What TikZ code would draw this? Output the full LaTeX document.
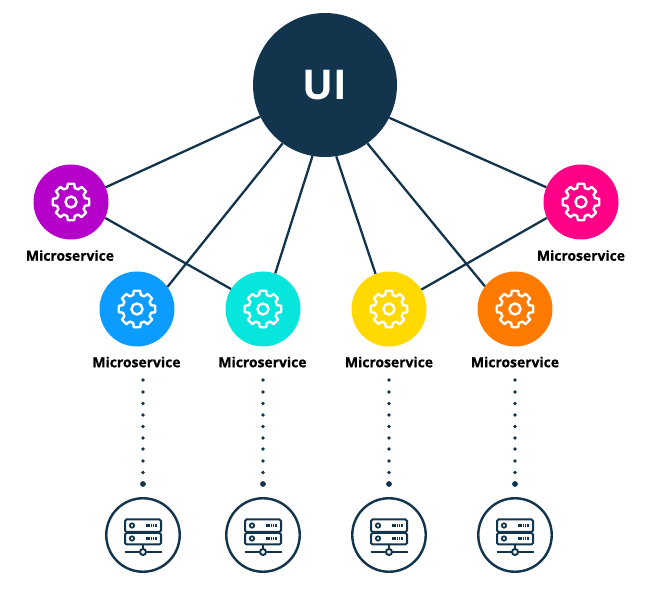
\documentclass[tikz,border=0pt]{standalone}
\usepackage{fontspec}
\setmainfont{Open Sans}
\newfontfamily\lblfont[FakeBold=0.6]{Open Sans Bold}
\definecolor{navy}{HTML}{12344D}
\definecolor{cpurple}{HTML}{B400C8}
\definecolor{cblue}{HTML}{0C9BFF}
\definecolor{ccyan}{HTML}{06E6DC}
\definecolor{cyellow}{HTML}{FFD900}
\definecolor{corange}{HTML}{FF7A00}
\definecolor{cpink}{HTML}{FF0086}
\tikzset{
  svc/.style={circle,minimum size=75pt,inner sep=0pt,fill=#1},
  lbl/.style={font=\fontsize{13.9}{16}\lblfont,text=black,inner sep=0pt},
  link/.style={draw=navy,line width=2.3pt},
  srv/.style={circle,minimum size=73.5pt,inner sep=0pt,draw=navy,line width=2.4pt,fill=white},
  dotm/.style={circle,fill=navy,inner sep=0pt,minimum size=#1},
  gear/.pic={
    \draw[white,line width=2.4pt,line join=round]
      (-15:14.5)
      \foreach \a in {0,45,...,315}{
        -- (\a-15:14.5) -- (\a-10:18.5) -- (\a+10:18.5) -- (\a+15:14.5) -- (\a+30:14.5)
      } -- cycle;
    \draw[white,line width=2.4pt] (0,0) circle (5.5);
  },
  server/.pic={
    \draw[navy,line width=2pt,rounded corners=1.5pt] (-18,-15.5) rectangle (18,-3);
    \draw[navy,line width=2pt,rounded corners=1.5pt] (-18,-2) rectangle (18,9.5);
    \draw[navy,line width=2pt] (0,9.5) -- (0,14);
    \draw[navy,line width=2pt] (-18.5,17) -- (18.5,17);
    \draw[navy,line width=2pt,fill=white] (0,17) circle (3);
    \draw[navy,line width=1.7pt] (-11,-9.5) circle (2.2);
    \draw[navy,line width=1.7pt] (-11,3.5) circle (2.2);
    \draw[navy,line width=2.2pt,dash pattern=on 1.3pt off 0.5pt] (2.5,-9.5) -- (13.5,-9.5);
    \draw[navy,line width=2.2pt,dash pattern=on 1.3pt off 0.5pt] (2.5,3.5) -- (13.5,3.5);
  }
}
\begin{document}
\begin{tikzpicture}[x=1pt,y=-1pt]
\useasboundingbox (0,0) rectangle (654,601);
% nodes
\node[circle,minimum size=144pt,inner sep=0pt,fill=navy,text=white,font=\fontsize{41}{45}\selectfont\bfseries] (ui) at (325,85) {UI};
\node[svc=cpurple] (purple) at (71,202) {};
\node[svc=cblue] (blue) at (137,309) {};
\node[svc=ccyan] (cyan) at (263,309) {};
\node[svc=cyellow] (yellow) at (389,309) {};
\node[svc=corange] (orange) at (515,309) {};
\node[svc=cpink] (pink) at (581,202) {};
% connectors
\draw[link] (ui.206.2) -- (purple.23.8);
\draw[link] (ui.234.1) -- (blue.36.9);
\draw[link] (ui.260.4) -- (cyan.71.6);
\draw[link] (ui.279.6) -- (yellow.111.8);
\draw[link] (ui.306.6) -- (orange.143);
\draw[link] (ui.333.4) -- (pink.157);
\draw[link] (purple.-25.2) -- (cyan.148.5);
\draw[link] (pink.205) -- (yellow.31.5);
% gears
\foreach \n in {purple,blue,cyan,yellow,orange,pink}{
  \pic at (\n) {gear};
}
% labels
\node[lbl] (lp) at (70,255.5) {Microservice};
\node[lbl] (lb) at (136.5,362) {Microservice};
\node[lbl] (lc) at (262.5,362) {Microservice};
\node[lbl] (ly) at (389,362) {Microservice};
\node[lbl] (lo) at (515,362) {Microservice};
\node[lbl] (lk) at (581,255.5) {Microservice};
% servers
\node[srv] (s1) at (143,535) {};
\node[srv] (s2) at (263,535) {};
\node[srv] (s3) at (389,535) {};
\node[srv] (s4) at (515,535) {};
\foreach \n in {s1,s2,s3,s4}{
  \pic at (\n) {server};
}
% dots
\foreach \n/\x in {1/143,2/263,3/389,4/515}{
  \foreach \y in {380,392,403.5,415,426.5,438,449,461,472.5}{
    \node[dotm=3.6pt] at (\x,\y) {};
  }
  \node[dotm=5.8pt] (d\n) at (\x,484) {};
}
\end{tikzpicture}
\end{document}
